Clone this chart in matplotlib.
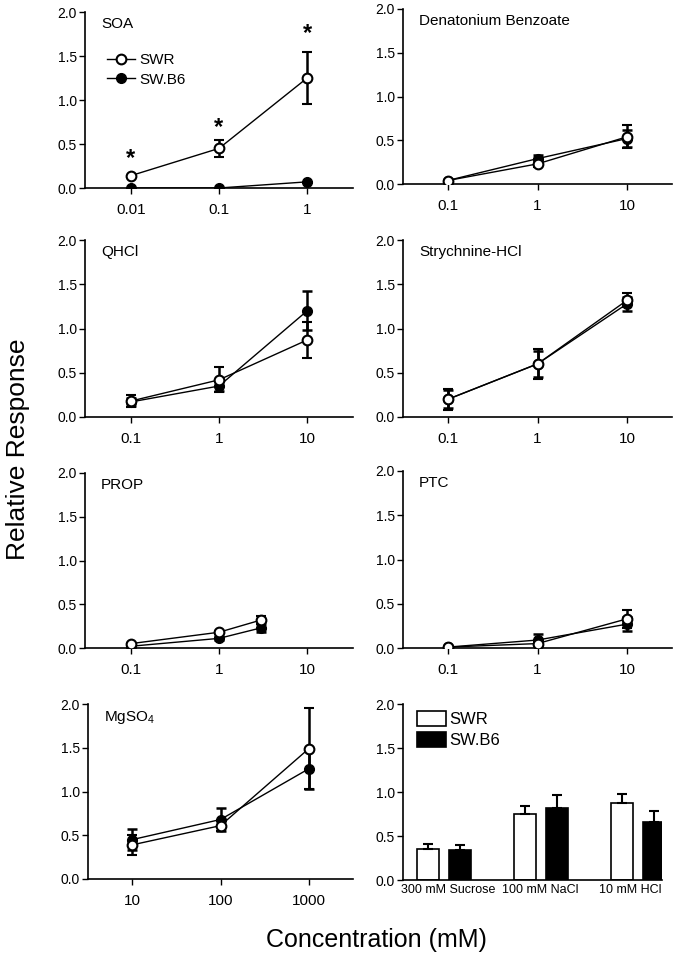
import numpy as np
import matplotlib
matplotlib.use("Agg")
import matplotlib.pyplot as plt
from matplotlib.lines import Line2D
from matplotlib.ticker import FixedLocator, NullLocator

plt.rcParams['font.family'] = ['Liberation Sans', 'DejaVu Sans']
plt.rcParams['mathtext.fontset'] = 'custom'
plt.rcParams['mathtext.rm'] = 'Liberation Sans'

# ---- data ----
# SOA
soa_x = [0.01, 0.1, 1]
soa_swr = [0.14, 0.45, 1.25]
soa_swr_err = [0.0, 0.10, 0.30]
soa_b6 = [0.0, 0.0, 0.07]
soa_b6_err = [0.0, 0.0, 0.0]
soa_star = [0.33, 0.69, 1.75]

# Denatonium Benzoate
den_x = [0.1, 1, 10]
den_swr = [0.04, 0.23, 0.54]
den_swr_err = [0.01, 0.04, 0.13]
den_b6 = [0.04, 0.29, 0.52]
den_b6_err = [0.01, 0.04, 0.10]

# QHCl
qhcl_x = [0.1, 1, 10]
qhcl_swr = [0.18, 0.42, 0.87]
qhcl_swr_err = [0.07, 0.14, 0.20]
qhcl_b6 = [0.17, 0.35, 1.20]
qhcl_b6_err = [0.05, 0.06, 0.22]

# Strychnine-HCl
str_x = [0.1, 1, 10]
str_swr = [0.20, 0.60, 1.32]
str_swr_err = [0.12, 0.17, 0.08]
str_b6 = [0.20, 0.60, 1.28]
str_b6_err = [0.10, 0.15, 0.08]

# PROP
prop_x = [0.1, 1, 3]
prop_swr = [0.05, 0.18, 0.32]
prop_swr_err = [0.01, 0.02, 0.05]
prop_b6 = [0.02, 0.11, 0.23]
prop_b6_err = [0.01, 0.02, 0.05]

# PTC
ptc_x = [0.1, 1, 10]
ptc_swr = [0.01, 0.05, 0.33]
ptc_swr_err = [0.0, 0.02, 0.10]
ptc_b6 = [0.01, 0.09, 0.27]
ptc_b6_err = [0.0, 0.07, 0.08]

# MgSO4
mg_x = [10, 100, 1000]
mg_swr = [0.39, 0.61, 1.49]
mg_swr_err = [0.11, 0.06, 0.46]
mg_b6 = [0.45, 0.68, 1.26]
mg_b6_err = [0.12, 0.13, 0.23]

# bar panel
bar_cats = ['300 mM Sucrose', '100 mM NaCl', '10 mM HCl']
bar_swr = [0.35, 0.75, 0.88]
bar_swr_err = [0.06, 0.09, 0.10]
bar_b6 = [0.34, 0.82, 0.66]
bar_b6_err = [0.06, 0.15, 0.12]

W, H = 682, 967
fig = plt.figure(figsize=(W / 100, H / 100), dpi=100)


def make_axes(x0, x1, ytop, ybot):
    ax = fig.add_axes([x0 / W, 1 - ybot / H, (x1 - x0) / W, (ybot - ytop) / H])
    ax.spines['top'].set_visible(False)
    ax.spines['right'].set_visible(False)
    ax.spines['left'].set_linewidth(1.2)
    ax.spines['bottom'].set_linewidth(1.2)
    ax.set_ylim(0, 2.0)
    ax.set_yticks([0, 0.5, 1.0, 1.5, 2.0])
    ax.set_yticklabels(['0.0', '0.5', '1.0', '1.5', '2.0'])
    ax.tick_params(axis='y', direction='out', length=4, width=1, pad=2, labelsize=10)
    ax.tick_params(axis='x', direction='out', length=4, width=1, pad=7, labelsize=11)
    return ax


def line_panel(ax, title, x, swr, swr_err, b6, b6_err, ticks, ticklabels, margin=0.5):
    ax.set_xscale('log')
    ax.errorbar(x, b6, yerr=b6_err, color='black', lw=1, marker='o', ms=7,
                mfc='black', mec='black', elinewidth=1.8, capsize=3.5, capthick=1.8,
                zorder=3)
    ax.errorbar(x, swr, yerr=swr_err, color='black', lw=1, marker='o', ms=7,
                mfc='white', mec='black', mew=1.5, elinewidth=1.8, capsize=3.5,
                capthick=1.8, zorder=4)
    lo = np.log10(ticks[0]) - margin
    hi = np.log10(ticks[-1]) + margin
    ax.set_xlim(10 ** lo, 10 ** hi)
    ax.xaxis.set_major_locator(FixedLocator(ticks))
    ax.xaxis.set_minor_locator(NullLocator())
    ax.set_xticklabels(ticklabels)
    ax.text(0.06, 0.97, title, transform=ax.transAxes, ha='left', va='top', fontsize=11)


# row 1
ax1 = make_axes(85, 353, 12, 188)
line_panel(ax1, 'SOA', soa_x, soa_swr, soa_swr_err, soa_b6, soa_b6_err,
           [0.01, 0.1, 1], ['0.01', '0.1', '1'], margin=0.52)
for xi, yi in zip(soa_x, soa_star):
    ax1.text(xi, yi, '*', ha='center', va='center', fontsize=17, fontweight='bold')
leg_handles = [
    Line2D([], [], color='black', lw=1, marker='o', ms=7, mfc='white', mec='black', mew=1.5),
    Line2D([], [], color='black', lw=1, marker='o', ms=7, mfc='black', mec='black'),
]
ax1.legend(leg_handles, ['SWR', 'SW.B6'], loc='upper left', bbox_to_anchor=(0.06, 0.80),
           frameon=False, fontsize=11, handlelength=1.8, handletextpad=0.3,
           labelspacing=0.35, borderaxespad=0)

ax2 = make_axes(403, 672, 9, 184)
line_panel(ax2, 'Denatonium Benzoate', den_x, den_swr, den_swr_err, den_b6, den_b6_err,
           [0.1, 1, 10], ['0.1', '1', '10'])

# row 2
ax3 = make_axes(85, 353, 240, 417)
line_panel(ax3, 'QHCl', qhcl_x, qhcl_swr, qhcl_swr_err, qhcl_b6, qhcl_b6_err,
           [0.1, 1, 10], ['0.1', '1', '10'], margin=0.52)
ax4 = make_axes(403, 672, 240, 417)
line_panel(ax4, 'Strychnine-HCl', str_x, str_swr, str_swr_err, str_b6, str_b6_err,
           [0.1, 1, 10], ['0.1', '1', '10'])

# row 3
ax5 = make_axes(85, 353, 473, 648)
line_panel(ax5, 'PROP', prop_x, prop_swr, prop_swr_err, prop_b6, prop_b6_err,
           [0.1, 1, 10], ['0.1', '1', '10'], margin=0.52)
ax6 = make_axes(403, 672, 471, 648)
line_panel(ax6, 'PTC', ptc_x, ptc_swr, ptc_swr_err, ptc_b6, ptc_b6_err,
           [0.1, 1, 10], ['0.1', '1', '10'])

# row 4
ax7 = make_axes(88, 353, 704, 879)
line_panel(ax7, r'MgSO$_\mathregular{4}$', mg_x, mg_swr, mg_swr_err, mg_b6, mg_b6_err,
           [10, 100, 1000], ['10', '100', '1000'], margin=0.5)

ax8 = make_axes(403, 662, 704, 880)
pos = np.arange(len(bar_cats))
bw = 0.23
ax8.bar(pos - 0.165, bar_swr, bw, color='white', edgecolor='black', lw=1.2,
        yerr=[np.zeros(3), bar_swr_err], capsize=3.5,
        error_kw=dict(elinewidth=1.5, capthick=1.5), label='SWR')
ax8.bar(pos + 0.165, bar_b6, bw, color='black', edgecolor='black', lw=1.2,
        yerr=[np.zeros(3), bar_b6_err], capsize=3.5,
        error_kw=dict(elinewidth=1.5, capthick=1.5), label='SW.B6')
ax8.set_xlim(-0.42, 2.25)
ax8.set_xticks(pos + np.array([0.05, 0.0, -0.08]))
ax8.set_xticklabels(bar_cats, fontsize=9)
ax8.tick_params(axis='x', length=0, pad=3)
ax8.legend(loc='upper left', bbox_to_anchor=(0.03, 1.0), frameon=False, fontsize=12,
           handlelength=1.7, handleheight=1.0, handletextpad=0.2, labelspacing=0.3,
           borderaxespad=0)

fig.text(0.027, 0.535, 'Relative Response', rotation=90, ha='center', va='center',
         fontsize=19)
fig.text(0.552, 0.028, 'Concentration (mM)', ha='center', va='center', fontsize=18)

fig.savefig('out.png', dpi=100)
